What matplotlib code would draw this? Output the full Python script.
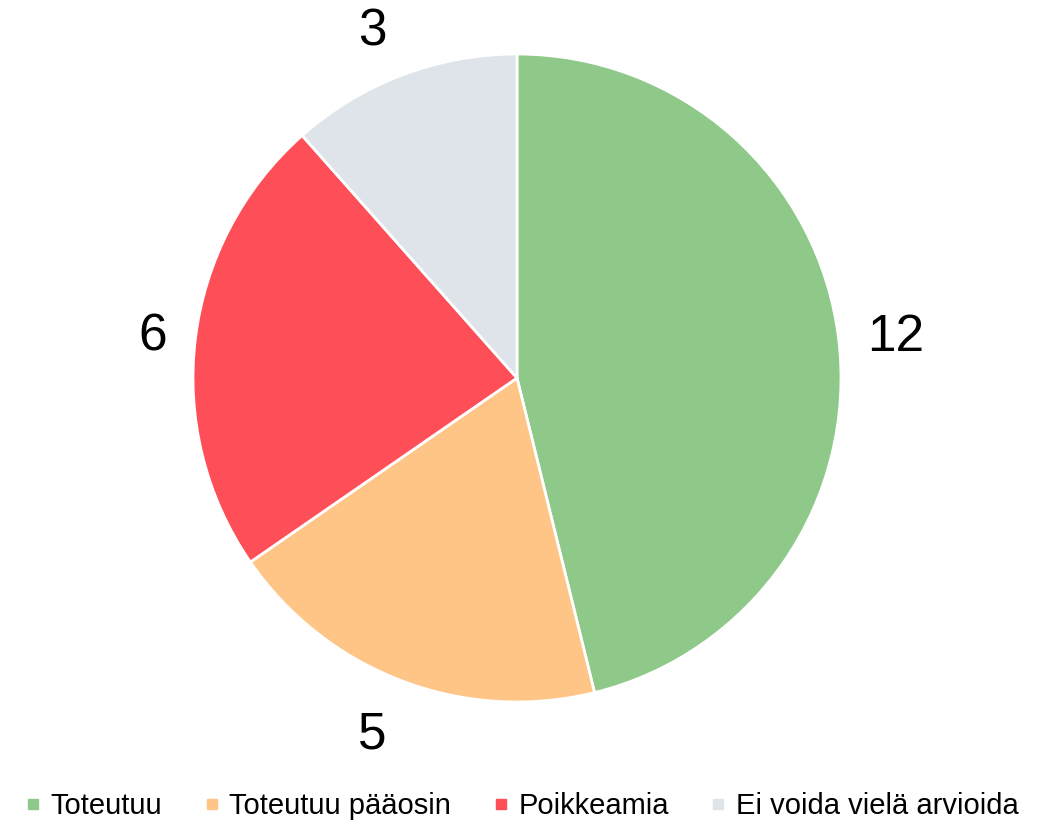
import numpy as np
import matplotlib.pyplot as plt
from matplotlib.lines import Line2D

plt.rcParams['font.family'] = ['Liberation Sans', 'DejaVu Sans']

categories = ['Toteutuu', 'Toteutuu pääosin', 'Poikkeamia', 'Ei voida vielä arvioida']
counts = [12, 5, 6, 3]
colors = ['#8ec98a', '#fec587', '#fe4f58', '#dfe3ea']
label_dist = [1.178, 1.178, 1.132, 1.17]
label_nudge = [-0.2, -1.5, -0.2, 1.6]  # degrees

fig = plt.figure(figsize=(10.43, 8.22), dpi=100)
W, H = 1043, 822
cx, cy, r = 517, 378, 324
ax = fig.add_axes([(cx - r) / W, (H - cy - r) / H, 2 * r / W, 2 * r / H])

wedges, _ = ax.pie(
    counts, colors=colors, startangle=90, counterclock=False,
    wedgeprops=dict(edgecolor='white', linewidth=2))

# value labels outside the slices
for w, n, d, nd in zip(wedges, counts, label_dist, label_nudge):
    mid = np.deg2rad((w.theta1 + w.theta2) / 2 + nd)
    ax.annotate(str(n), (d * np.cos(mid), d * np.sin(mid)),
                xytext=(0, -3), textcoords='offset points',
                fontsize=37, ha='center', va='center', annotation_clip=False)

ax.set_xlim(-1, 1)
ax.set_ylim(-1, 1)
ax.set_aspect('equal')
ax.axis('off')

handles = [Line2D([], [], marker='s', linestyle='none', markersize=7.5,
                  markerfacecolor=c, markeredgecolor=c) for c in colors]
fig.legend(handles, categories, loc='center', bbox_to_anchor=(0.5, 1 - 806 / H),
           ncol=4, frameon=False, fontsize=21, handlelength=0.6,
           handletextpad=0.3, columnspacing=1.4)

plt.savefig('out.png', dpi=100)
